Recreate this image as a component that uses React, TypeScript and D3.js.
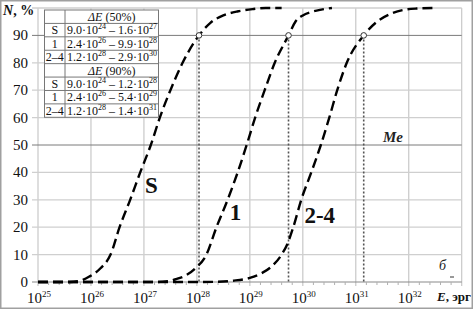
import React from "react";
import * as d3 from "d3";

const W = 473;
const H = 309;

// log10(E) and N% for each curve
const curveS: [number, number][] = [
  [25, 0], [25.6, 0], [25.8, 0.5], [25.97, 2], [26.18, 5], [26.37, 10], [26.54, 20],
  [26.74, 30], [26.93, 40], [27.13, 50], [27.3, 60], [27.5, 70], [27.73, 80], [28.04, 90],
  [28.25, 94.5], [28.5, 97.3], [28.78, 98.8], [29.05, 99.6], [29.3, 100], [29.6, 100],
];
const curve1: [number, number][] = [
  [25, 0], [27.2, 0], [27.45, 0.3], [27.6, 1], [27.8, 2.5], [27.97, 5], [28.18, 10],
  [28.37, 20], [28.58, 30], [28.77, 40], [28.94, 50], [29.1, 60], [29.28, 70], [29.47, 80],
  [29.73, 90], [29.86, 95], [30.0, 97.3], [30.15, 98.5], [30.35, 99.4], [30.55, 100],
];
const curve24: [number, number][] = [
  [25, 0], [28.0, 0], [28.4, 0.1], [28.7, 0.5], [29.0, 1.5], [29.2, 3], [29.4, 5.5],
  [29.6, 10], [29.7, 13.5], [29.82, 20], [29.97, 30], [30.16, 40], [30.34, 50], [30.5, 60],
  [30.65, 70], [30.83, 80], [31.15, 90], [31.4, 95], [31.65, 97.8], [31.9, 99.3],
  [32.15, 99.8], [32.5, 100],
];
const curves = [curveS, curve1, curve24];

// 90% points (log10 E)
const points90 = [28.04, 29.73, 31.15];

const yTicks = [0, 10, 20, 30, 40, 50, 60, 70, 80, 90];
const yGrid = [10, 20, 30, 40, 60, 70, 80, 100];
const yDark = [50, 90];
const xExps = [25, 26, 27, 28, 29, 30, 31, 32, 33];
const xLabelExps = [25, 26, 27, 28, 29, 30, 31, 32];

const tableHead50 = "(50%)";
const tableHead90 = "(90%)";
const rows50: [string, string, number, string, number][] = [
  ["S", "9.0", 24, "1.6", 27],
  ["1", "2.4", 26, "9.9", 28],
  ["2–4", "1.2", 28, "2.9", 30],
];
const rows90: [string, string, number, string, number][] = [
  ["S", "9.0", 24, "1.2", 28],
  ["1", "2.4", 26, "5.4", 29],
  ["2–4", "1.2", 28, "1.4", 31],
];

const curveLabels: { t: string; lx: number; n: number }[] = [
  { t: "S", lx: 27.02, n: 32.5 },
  { t: "1", lx: 28.62, n: 22.5 },
  { t: "2-4", lx: 30.03, n: 21.5 },
];

const serif = "'Liberation Serif', 'Times New Roman', Times, 'DejaVu Serif', serif";
const F = { fontFamily: serif };

export default function App() {
  const x = d3.scaleLog().domain([1e25, 1e33]).range([38, 461.7]);
  const y = d3.scaleLinear().domain([0, 100]).range([282, 8]);
  const px = (l: number) => x(Math.pow(10, l));

  const line = d3
    .line<[number, number]>()
    .x((d) => px(d[0]))
    .y((d) => y(d[1]))
    .curve(d3.curveMonotoneX);

  const minor: number[] = [];
  for (let d = 25; d < 33; d++) for (let k = 1; k < 5; k++) minor.push(d + k / 5);

  const tX0 = 44.5, tX1 = 65, tX2 = 158.5, tY0 = 10, tY1 = 117.3;
  const rowH = (tY1 - tY0) / 8;
  const allRows: any[] = [
    { head: tableHead50 },
    ...rows50.map((r) => ({ r })),
    { head: tableHead90 },
    ...rows90.map((r) => ({ r })),
  ];

  return (
    <svg
      width={W}
      height={H}
      style={{ position: "absolute", left: 0, top: 0, background: "#fff", fontFamily: serif }}
    >
      <rect x={0} y={0} width={W} height={H} fill="#fff" />
      {/* vertical grid */}
      {xExps.map((e) => (
        <line key={"v" + e} x1={px(e)} x2={px(e)} y1={y(100)} y2={y(0) + 4}
          stroke="#c8c8c8" strokeWidth={1.2} />
      ))}
      {/* horizontal grid */}
      {yGrid.map((v) => (
        <line key={"h" + v} x1={32} x2={px(33)} y1={y(v)} y2={y(v)}
          stroke="#cfcfcf" strokeWidth={1.3} />
      ))}
      {yDark.map((v) => (
        <line key={"hd" + v} x1={32} x2={px(33)} y1={y(v)} y2={y(v)}
          stroke="#7a7a7a" strokeWidth={1} />
      ))}
      {/* x axis */}
      <line x1={32} x2={px(33)} y1={y(0)} y2={y(0)} stroke="#8a8a8a" strokeWidth={1.2} />
      {minor.map((m, i) => (
        <line key={"m" + i} x1={px(m)} x2={px(m)} y1={y(0)} y2={y(0) + 3}
          stroke="#b0b0b0" strokeWidth={1} />
      ))}
      {/* dotted drops */}
      {points90.map((p, i) => (
        <line key={"dd" + i} x1={px(p)} x2={px(p)} y1={y(90)} y2={y(0)}
          stroke="#555" strokeWidth={1.6} strokeDasharray="2,2" />
      ))}
      {/* curves */}
      {curves.map((c, i) => (
        <path key={"c" + i} d={line(c) || ""} fill="none" stroke="#000"
          strokeWidth={2.4} strokeDasharray="10,5" />
      ))}
      {points90.map((p, i) => (
        <circle key={"p" + i} cx={px(p)} cy={y(90)} r={2.8} fill="#fff" stroke="#333" strokeWidth={1} />
      ))}
      {/* y tick labels */}
      {yTicks.map((v) => (
        <text key={"yt" + v} x={28} y={y(v) + 5} fontSize={15} textAnchor="end" fill="#111" style={F}>
          {v}
        </text>
      ))}
      <text x={3} y={15} fontSize={14} fontWeight="bold" fill="#111" style={F}>
        <tspan fontStyle="italic">N</tspan>, %
      </text>
      {/* x tick labels */}
      {xLabelExps.map((e) => (
        <text key={"xt" + e} x={px(e) + 1} y={303} fontSize={15} textAnchor="middle" fill="#111" style={F}>
          10<tspan fontSize={9} dy={-6}>{e}</tspan>
        </text>
      ))}
      <text x={437} y={301} fontSize={13} fontWeight="bold" fill="#111" style={F}>
        <tspan fontStyle="italic">E</tspan>, эрг
      </text>
      {/* table */}
      <rect x={tX0} y={tY0} width={tX2 - tX0} height={tY1 - tY0} fill="#fff" stroke="#777" strokeWidth={1} />
      <line x1={tX1} x2={tX1} y1={tY0} y2={tY1} stroke="#777" strokeWidth={1} />
      {allRows.map((row, i) => {
        const top = tY0 + i * rowH;
        const base = top + rowH / 2 + 4.2;
        return (
          <g key={"tr" + i}>
            {i > 0 && (
              <line x1={tX0} x2={tX2} y1={top} y2={top} stroke="#777" strokeWidth={1} />
            )}
            {row.head ? (
              <text x={(tX1 + tX2) / 2} y={base} fontSize={12} textAnchor="middle" fill="#111" style={F}>
                <tspan fontStyle="italic">ΔE</tspan> {row.head}
              </text>
            ) : (
              <>
                <text x={(tX0 + tX1) / 2} y={base} fontSize={12} textAnchor="middle" fill="#111" style={F}>
                  {row.r[0]}
                </text>
                <text x={tX1 + 2} y={base} fontSize={12} fill="#111" style={F}>
                  {row.r[1]}·10<tspan fontSize={8} dy={-5}>{row.r[2]}</tspan>
                  <tspan dy={5}> – {row.r[3]}·10</tspan>
                  <tspan fontSize={8} dy={-5}>{row.r[4]}</tspan>
                </text>
              </>
            )}
          </g>
        );
      })}
      {/* curve labels */}
      {curveLabels.map((l) => (
        <text key={l.t} x={px(l.lx)} y={y(l.n)} fontSize={23} fontWeight="bold" fill="#111" style={F}>
          {l.t}
        </text>
      ))}
      <text x={383} y={142} fontSize={15} fontWeight="bold" fontStyle="italic" fill="#222" style={F}>Me</text>
      <text x={439} y={270} fontSize={14} fontStyle="italic" fill="#222" style={F}>б</text>
      <line x1={450} x2={454} y1={277} y2={277} stroke="#333" strokeWidth={1} />
      {/* frame */}
      <rect x={0.75} y={0.75} width={W - 1.5} height={H - 1.5} fill="none" stroke="#a0a0a0" strokeWidth={1.5} />
    </svg>
  );
}
